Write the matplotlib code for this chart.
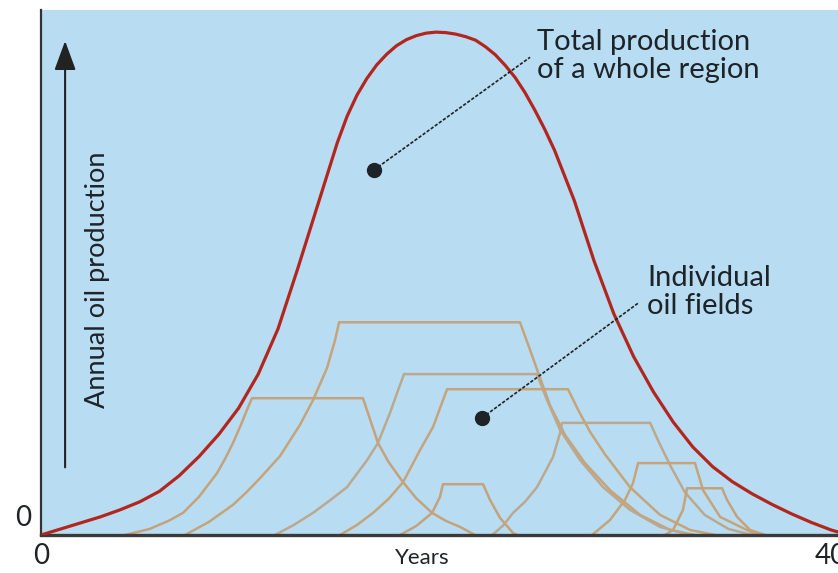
import matplotlib.pyplot as plt

plt.rcParams['font.family'] = ['Lato', 'DejaVu Sans']

# Total production of the whole region (years, output)
total_years = [0, 1, 2, 3, 4, 5, 6, 7, 8, 9, 10, 11, 12, 13, 14, 15, 15.5, 16, 16.5,
               17, 17.5, 18, 18.5, 19, 19.5, 20, 20.5, 21, 21.5, 22, 22.5, 23, 23.5,
               24, 24.5, 25, 25.5, 26, 27, 28, 29, 30, 31, 32, 33, 34, 35, 36, 37, 38,
               39, 40, 40.35]
total_output = [0, 1.2, 2.4, 3.6, 5.0, 6.6, 8.7, 11.8, 15.6, 20.0, 25.2, 32.0, 41.0,
                53.0, 65.5, 78.0, 83.3, 87.5, 90.8, 93.5, 95.6, 97.3, 98.5, 99.3, 99.8,
                100, 99.9, 99.6, 99.1, 98.4, 97.1, 95.5, 93.4, 91.0, 88.0, 84.5, 80.7,
                76.5, 66.5, 54.5, 44.0, 35.5, 28.5, 22.5, 17.5, 13.6, 10.6, 8.2, 6.1,
                4.2, 2.5, 1.0, 0.6]

# Individual oil fields: rise, plateau, decline
field_a_years = [4.25, 5.5, 6.5, 7.19, 8.0, 8.91, 9.3, 9.72, 10.1, 10.43, 10.68, 16.30,
                 17.06, 17.6, 18.33, 19.0, 19.80, 20.5, 21.22, 21.97]
field_a_output = [0, 1.2, 2.9, 4.4, 7.6, 12.3, 15.0, 18.3, 21.7, 24.9, 27.2, 27.2,
                  18.3, 14.5, 10.5, 7.3, 4.4, 2.8, 1.6, 0]

field_b_years = [7.29, 8.5, 9.72, 10.4, 11.09, 12.10, 13.11, 13.77, 14.48, 14.89, 15.09,
                 24.25, 24.76, 25.16, 25.77, 26.53, 27.54, 28.81, 30.33, 31.85, 33.11]
field_b_output = [0, 2.6, 6.0, 8.5, 11.3, 15.7, 21.9, 26.8, 33.2, 38.8, 42.3,
                  42.3, 36.8, 32.4, 25.8, 19.9, 14.3, 8.9, 4.0, 1.0, 0]

field_c_years = [11.85, 12.8, 13.77, 14.6, 15.49, 16.51, 17.06, 17.67, 18.08, 18.38, 25.11,
                 25.62, 26.28, 27.29, 28.46, 29.82, 31.34, 32.86]
field_c_output = [0, 2.0, 4.4, 6.8, 9.5, 14.9, 18.3, 24.3, 28.8, 32.0, 32.0,
                  26.8, 20.9, 14.9, 9.5, 5.0, 1.6, 0]

field_d_years = [15.14, 16.0, 16.81, 17.6, 18.33, 19.19, 19.85, 20.35, 20.56, 26.68,
                 27.19, 27.80, 28.56, 29.82, 31.34, 32.86, 34.13]
field_d_output = [0, 2.0, 4.4, 7.2, 10.5, 16.9, 21.5, 26.8, 29.0, 29.0,
                  24.9, 20.5, 16.0, 9.5, 4.0, 1.0, 0]

field_e_years = [18.18, 19.0, 19.80, 20.20, 20.35, 22.38, 22.73, 23.24, 23.90, 24.10]
field_e_output = [0, 1.8, 4.4, 7.6, 10.1, 10.1, 7.0, 3.4, 0.4, 0]

field_f_years = [22.84, 23.4, 23.90, 24.5, 25.11, 25.92, 26.28, 26.38, 30.84,
                 31.3, 31.9, 32.6, 33.6, 34.8, 36.0]
field_f_output = [0, 1.9, 4.4, 6.6, 9.5, 15.5, 20.3, 22.3, 22.3,
                  18.3, 13.5, 8.5, 4.0, 1.2, 0]

field_g_years = [27.90, 28.81, 29.57, 29.97, 30.23, 33.11, 33.52, 34.38, 36.05, 36.4]
field_g_output = [0, 3.0, 7.0, 10.3, 14.3, 14.3, 8.9, 3.6, 0.4, 0]

field_h_years = [31.59, 32.0, 32.5, 32.71, 34.48, 34.73, 35.24, 35.9, 36.66]
field_h_output = [0, 1.0, 5.0, 9.3, 9.3, 7.0, 3.6, 1.0, 0]

fields = [
    (field_a_years, field_a_output),
    (field_b_years, field_b_output),
    (field_c_years, field_c_output),
    (field_d_years, field_d_output),
    (field_e_years, field_e_output),
    (field_f_years, field_f_output),
    (field_g_years, field_g_output),
    (field_h_years, field_h_output),
]
field_colors = ['#c4a27c', '#c6a47a', '#bca88e', '#c6a47a', '#c4a27c', '#bca88e', '#c6a47a', '#c4a27c']

fig = plt.figure(figsize=(8.38, 5.73), dpi=100)
ax = fig.add_axes([41 / 838, 38 / 573, 797 / 838, 525 / 573])
ax.set_facecolor('#b8ddf3')
ax.set_xlim(0, 40.35)
ax.set_ylim(0, 104.4)

for (yrs, out), col in zip(fields, field_colors):
    ax.plot(yrs, out, color=col, lw=1.8, zorder=2)

ax.plot(total_years, total_output, color='#b3261e', lw=2.3, zorder=3)

# pointers
ax.plot([16.86, 24.76], [72.6, 95.0], color='#222222', lw=1.2, ls=(0, (2, 1)), zorder=4)
ax.plot(16.86, 72.6, 'o', color='#1e2328', ms=10, zorder=5)
ax.plot([22.33, 30.23], [23.3, 46.1], color='#222222', lw=1.2, ls=(0, (2, 1)), zorder=4)
ax.plot(22.33, 23.3, 'o', color='#1e2328', ms=10, zorder=5)

ax.text(25.1, 100.6, 'Total production\nof a whole region', fontsize=21, color='#1e2328',
        ha='left', va='top', linespacing=1.08)
ax.text(30.7, 53.6, 'Individual\noil fields', fontsize=21, color='#1e2328',
        ha='left', va='top', linespacing=1.08)

# y-axis arrow and label
ax.annotate('', xy=(1.22, 98.8), xytext=(1.22, 12.9),
            arrowprops=dict(arrowstyle='-|>,head_length=0.9,head_width=0.33',
                            lw=1.5, color='#222222', mutation_scale=20))
ax.text(2.84, 50.7, 'Annual oil production', rotation=90, fontsize=19.5,
        color='#1e2328', ha='center', va='center')

for side in ['top', 'right']:
    ax.spines[side].set_visible(False)
ax.spines['left'].set_color('#333333')
ax.spines['left'].set_linewidth(1.6)
ax.spines['bottom'].set_color('#3a3a3a')
ax.spines['bottom'].set_linewidth(2.4)

ax.set_xticks([0, 40])
ax.set_xticklabels(['0', '40'], fontsize=20, color='#1e2328')
ax.tick_params(axis='x', length=0, pad=6)
ax.set_yticks([])
ax.text(-0.5, 3.4, '0', fontsize=20, color='#1e2328', ha='right', va='center', clip_on=False)
ax.text(19.3, -2.5, 'Years', fontsize=16, color='#1e2328', ha='center', va='top', clip_on=False)

fig.savefig('out.png', dpi=100)
